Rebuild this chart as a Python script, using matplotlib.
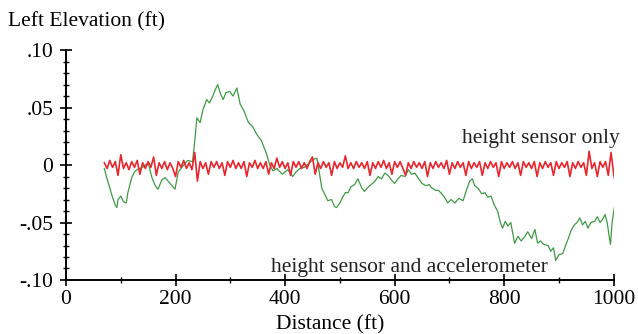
import numpy as np
import matplotlib.pyplot as plt
from matplotlib.ticker import MultipleLocator, FixedLocator

plt.rcParams['font.family'] = ['Liberation Serif', 'DejaVu Serif']

# height sensor and accelerometer (green)
accel_dist = [70, 75, 80, 85, 90, 93, 95, 100, 105, 110, 113, 120, 125, 130, 140, 150,
              157, 163, 168, 175, 181, 190, 199, 205, 215, 222, 231, 235, 239, 245, 250,
              257, 262, 268, 272, 277, 282, 287, 292, 299, 305, 312, 318, 325, 333, 340,
              348, 357, 366, 372, 378, 385, 395, 405, 414, 420, 427, 435, 445, 452, 458,
              462, 467, 472, 478, 485, 490, 494, 500, 505, 510, 515, 520, 527, 533, 540,
              545, 550, 557, 564, 570, 576, 582, 588, 594, 600, 606, 612, 619, 625, 631,
              637, 644, 650, 657, 663, 668, 675, 680, 686, 691, 697, 703, 710, 717, 725,
              731, 737, 742, 746, 752, 759, 765, 770, 776, 782, 788, 793, 797, 802, 807,
              812, 816, 819, 825, 831, 838, 843, 850, 856, 861, 866, 872, 880, 885, 890,
              894, 900, 907, 912, 917, 922, 928, 933, 938, 943, 948, 953, 958, 965, 970,
              975, 980, 984, 988, 991, 994, 997, 1001, 1004, 1007]
accel_elev = [-0.003, -0.012, -0.020, -0.028, -0.035, -0.037, -0.030, -0.027, -0.032, -0.033,
              -0.024, -0.011, -0.006, -0.004, -0.002, 0.002, -0.011, -0.018, -0.021, -0.013,
              -0.011, -0.016, -0.021, -0.006, 0.000, 0.004, 0.003, 0.020, 0.041, 0.037,
              0.048, 0.057, 0.054, 0.060, 0.065, 0.070, 0.062, 0.057, 0.063, 0.064,
              0.060, 0.067, 0.053, 0.047, 0.037, 0.034, 0.027, 0.021, 0.010, 0.000,
              -0.005, -0.003, -0.008, -0.004, -0.010, -0.006, -0.003, -0.002, 0.002, 0.005,
              0.006, -0.005, -0.020, -0.025, -0.031, -0.030, -0.036, -0.037, -0.033, -0.028,
              -0.024, -0.024, -0.019, -0.017, -0.012, -0.020, -0.023, -0.020, -0.017, -0.014,
              -0.010, -0.012, -0.007, -0.009, -0.013, -0.016, -0.012, -0.009, -0.010, -0.004,
              -0.008, -0.007, -0.012, -0.016, -0.018, -0.017, -0.020, -0.022, -0.022, -0.025,
              -0.028, -0.033, -0.030, -0.033, -0.029, -0.031, -0.022, -0.014, -0.012, -0.018,
              -0.020, -0.025, -0.024, -0.028, -0.027, -0.035, -0.040, -0.050, -0.055, -0.049,
              -0.053, -0.050, -0.060, -0.068, -0.062, -0.066, -0.062, -0.058, -0.064, -0.056,
              -0.068, -0.066, -0.069, -0.070, -0.075, -0.072, -0.083, -0.078, -0.077, -0.070,
              -0.064, -0.057, -0.052, -0.050, -0.046, -0.052, -0.049, -0.055, -0.050, -0.049,
              -0.045, -0.050, -0.047, -0.043, -0.050, -0.060, -0.069, -0.050, -0.037, -0.045,
              -0.053]

# height sensor only (red), sampled every 5 ft from 70 ft
sensor_start, sensor_step = 70, 5
sensor_elev = [
    0.002, -0.003, 0.004, -0.002, 0.003, -0.009, 0.009, -0.003, 0.002, -0.004,
    0.003, -0.002, 0.004, -0.008, 0.002, -0.003, 0.003, -0.002, 0.007, -0.009,
    0.002, -0.003, 0.003, -0.004, 0.002, -0.003, -0.010, 0.003, -0.002, 0.004,
    -0.003, 0.002, -0.004, 0.011, -0.014, 0.003, -0.003, 0.002, -0.008, 0.003,
    -0.002, 0.003, -0.003, 0.002, -0.009, 0.003, -0.002, 0.004, -0.003, 0.002,
    -0.003, 0.003, -0.010, 0.002, -0.002, 0.004, -0.003, 0.002, -0.003, 0.003,
    -0.008, 0.002, -0.003, 0.006, -0.002, 0.003, -0.003, 0.002, -0.009, 0.003,
    -0.002, 0.003, -0.003, 0.002, -0.003, 0.003, 0.007, -0.008, 0.002, -0.003,
    0.003, -0.002, 0.002, -0.009, 0.003, -0.003, 0.002, -0.002, 0.008, -0.003,
    0.002, -0.003, 0.003, -0.002, 0.002, -0.003, 0.003, -0.009, 0.002, -0.003,
    0.003, -0.002, 0.004, -0.003, 0.002, -0.008, 0.003, -0.002, 0.003, -0.003,
    -0.009, 0.002, -0.003, 0.003, -0.002, 0.002, -0.003, 0.003, -0.010, 0.002,
    -0.003, 0.003, -0.002, 0.002, -0.003, 0.004, -0.008, 0.002, -0.003, 0.003,
    -0.002, 0.002, -0.009, 0.003, -0.003, 0.002, -0.002, 0.003, -0.009, 0.002,
    -0.003, 0.003, -0.002, 0.002, -0.010, 0.003, -0.003, 0.002, -0.002, 0.003,
    -0.003, 0.002, -0.009, 0.003, -0.002, 0.002, -0.003, 0.003, -0.010, 0.002,
    -0.003, 0.003, -0.002, 0.002, -0.009, 0.003, -0.003, 0.002, -0.002, 0.003,
    -0.010, 0.002, -0.003, 0.003, -0.002, 0.002, -0.009, 0.012, -0.003, 0.002,
    -0.010, 0.003, -0.002, 0.003, -0.009, 0.011, -0.008, -0.021,
]
sensor_dist = sensor_start + sensor_step * np.arange(len(sensor_elev))

y_ticks = [-0.10, -0.05, 0, 0.05, 0.10]
y_tick_labels = ['-.10', '-.05', '0', '.05', '.10']
x_ticks = [0, 200, 400, 600, 800, 1000]

fig = plt.figure(figsize=(6.38, 3.34), dpi=100)
ax = fig.add_axes([0.1034, 0.1617, 0.8586, 0.6883])

ax.plot(accel_dist, accel_elev, color='#3f9a45', lw=0.9)
ax.plot(sensor_dist, sensor_elev, color='#e8262e', lw=1.2)

ax.set_xlim(0, 1000)
ax.set_ylim(-0.10, 0.10)
ax.spines['top'].set_visible(False)
ax.spines['right'].set_visible(False)
for s in ('left', 'bottom'):
    ax.spines[s].set_linewidth(1.4)

ax.yaxis.set_major_locator(FixedLocator(y_ticks))
ax.set_yticklabels(y_tick_labels)
ax.yaxis.set_minor_locator(MultipleLocator(0.01))
ax.xaxis.set_major_locator(FixedLocator(x_ticks))
ax.xaxis.set_minor_locator(MultipleLocator(100))
ax.tick_params(which='major', direction='inout', length=8, width=1.2, labelsize=15.5)
ax.tick_params(which='minor', direction='inout', length=4, width=1.0)
ax.tick_params(axis='y', which='major', pad=5)
ax.tick_params(axis='x', which='major', pad=3)

ax.text(1011, 0.019, 'height sensor only', ha='right', va='baseline', fontsize=15.5, color='#222222')
ax.text(374, -0.093, 'height sensor and accelerometer', ha='left', va='baseline', fontsize=15.5, color='#222222')

fig.text(8 / 638, 1 - 22 / 334, 'Left Elevation (ft)', ha='left', va='center', fontsize=15.5)
fig.text(330 / 638, 1 - 325 / 334, 'Distance (ft)', ha='center', va='center', fontsize=15.5)

fig.savefig('out.png', dpi=100)
